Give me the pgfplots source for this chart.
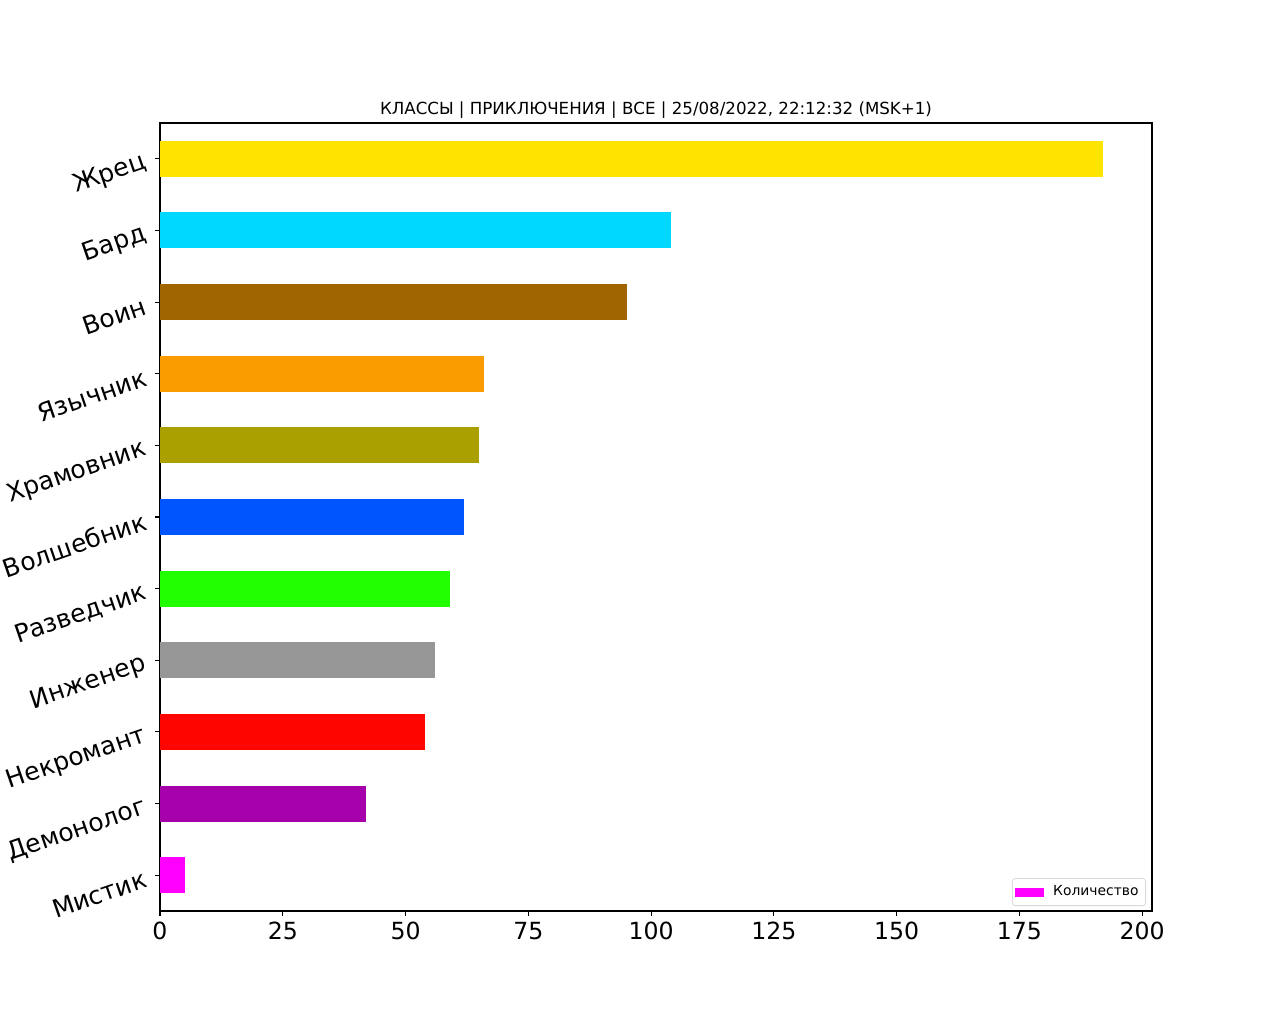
\documentclass[border=0pt]{standalone}
\usepackage{pgfplots}
\pgfplotsset{compat=1.18}
\usepackage{fontspec}
\setmainfont{DejaVu Sans}
\definecolor{cZh}{RGB}{255,228,0}
\definecolor{cBa}{RGB}{0,216,255}
\definecolor{cVo}{RGB}{160,100,0}
\definecolor{cYa}{RGB}{250,155,0}
\definecolor{cHr}{RGB}{170,160,0}
\definecolor{cVl}{RGB}{0,85,255}
\definecolor{cRa}{RGB}{34,255,0}
\definecolor{cIn}{RGB}{150,150,150}
\definecolor{cNe}{RGB}{255,5,0}
\definecolor{cDe}{RGB}{165,0,170}
\definecolor{cMi}{RGB}{255,0,255}
\begin{document}
\begin{tikzpicture}
\path[use as bounding box] (0pt,0pt) rectangle (640pt,512pt);
\begin{axis}[
  at={(80pt,56.5pt)}, anchor=south west,
  width=496pt, height=394pt, scale only axis,
  xmin=0, xmax=202, ymin=-0.5, ymax=10.5,
  axis line style={line width=0.55pt},
  xtick={0,25,...,200},
  ytick={0,...,10},
  yticklabels={Мистик,Демонолог,Некромант,Инженер,Разведчик,Волшебник,Храмовник,Язычник,Воин,Бард,Жрец},
  tick align=outside, xtick pos=bottom, ytick pos=left,
  major tick length=2.4pt,
  tick style={line width=0.55pt, black},
  /pgf/number format/assume math mode=true,
  xticklabel style={font=\fontsize{11.8}{14}\selectfont, inner sep=0pt, anchor=north, yshift=-2.8pt},
  yticklabel style={font=\fontsize{12.5}{15}\selectfont, rotate=19, anchor=east, inner sep=0pt, xshift=-5pt},
  title={КЛАССЫ | ПРИКЛЮЧЕНИЯ | ВСЕ | 25/08/2022, 22:12:32 (MSK+1)},
  title style={font=\fontsize{8.33}{10}\selectfont, at={(0.5,1)}, anchor=south, inner sep=0pt, yshift=-3.7pt},
  legend style={at={(1,0)}, anchor=south east, xshift=-3pt, yshift=2.5pt, draw=black!15, rounded corners=1.5pt, font=\fontsize{6.94}{8}\selectfont, inner sep=1.5pt},
  legend cell align=left,
]
\addplot[xbar, bar width=18pt, bar shift=0pt, fill=cZh, draw=none, forget plot] coordinates {(192,10)};
\addplot[xbar, bar width=18pt, bar shift=0pt, fill=cBa, draw=none, forget plot] coordinates {(104,9)};
\addplot[xbar, bar width=18pt, bar shift=0pt, fill=cVo, draw=none, forget plot] coordinates {(95,8)};
\addplot[xbar, bar width=18pt, bar shift=0pt, fill=cYa, draw=none, forget plot] coordinates {(66,7)};
\addplot[xbar, bar width=18pt, bar shift=0pt, fill=cHr, draw=none, forget plot] coordinates {(65,6)};
\addplot[xbar, bar width=18pt, bar shift=0pt, fill=cVl, draw=none, forget plot] coordinates {(62,5)};
\addplot[xbar, bar width=18pt, bar shift=0pt, fill=cRa, draw=none, forget plot] coordinates {(59,4)};
\addplot[xbar, bar width=18pt, bar shift=0pt, fill=cIn, draw=none, forget plot] coordinates {(56,3)};
\addplot[xbar, bar width=18pt, bar shift=0pt, fill=cNe, draw=none, forget plot] coordinates {(54,2)};
\addplot[xbar, bar width=18pt, bar shift=0pt, fill=cDe, draw=none, forget plot] coordinates {(42,1)};
\addplot[xbar, bar width=18pt, bar shift=0pt, fill=cMi, draw=none, forget plot] coordinates {(5,0)};
\addlegendimage{legend image code/.code={\fill[cMi, sharp corners] (0pt,-2pt) rectangle (14pt,2pt);}}
\addlegendentry{\hspace{2.5pt}Количество}
\end{axis}
\end{tikzpicture}
\end{document}
